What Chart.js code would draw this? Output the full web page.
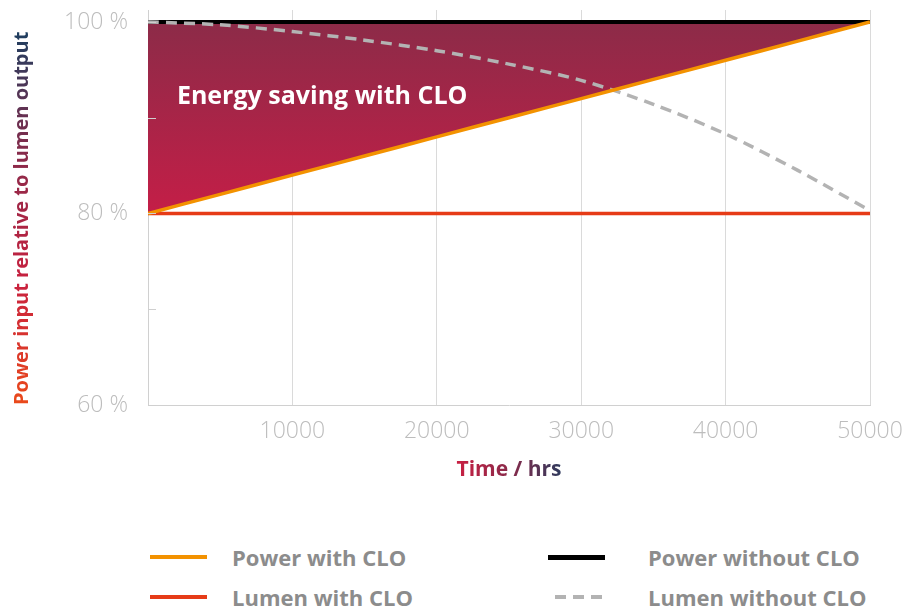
<!DOCTYPE html>
<html><head><meta charset="utf-8">
<script src="https://cdn.jsdelivr.net/npm/chart.js@4.4.1/dist/chart.umd.min.js"></script>
<style>
html,body{margin:0;padding:0;background:#fff;width:903px;height:610px;overflow:hidden;font-family:"Open Sans",sans-serif;}
#wrap{position:relative;width:903px;height:610px;}
canvas{position:absolute;left:0;top:0;}
.sw{position:absolute;}
.lt{position:absolute;font-weight:700;font-size:22px;line-height:30px;color:#8c8c8c;white-space:nowrap;}
</style></head><body>
<div id="wrap"><canvas id="c" width="903" height="500"></canvas><div id="legend"></div></div>
<script>
// ---- data ----
const timeHrs          = [0, 5000, 10000, 15000, 20000, 25000, 30000, 35000, 40000, 45000, 50000];
const powerWithCLO     = [80, 82, 84, 86, 88, 90, 92, 94, 96, 98, 100];
const powerWithoutCLO  = [100, 100, 100, 100, 100, 100, 100, 100, 100, 100, 100];
const lumenWithCLO     = [80, 80, 80, 80, 80, 80, 80, 80, 80, 80, 80];
const lumenWithoutCLO  = [100, 99.7, 99.0, 98.1, 97.0, 95.6, 93.9, 91.4, 88.3, 84.5, 80.3];
const xTickValues = [10000, 20000, 30000, 40000, 50000];
const yTickValues = [60, 70, 80, 90, 100];
const yLabelValues = [60, 80, 100];
const legendOrder = ['Power with CLO', 'Power without CLO', 'Lumen with CLO', 'Lumen without CLO'];
const annotationText = 'Energy saving with CLO';
const annotationPos = {x: 2000, y: 92.2};

const pts = arr => timeHrs.map((t, i) => ({x: t, y: arr[i]}));

const canvas = document.getElementById('c');
const ctx0 = canvas.getContext('2d');
const yTitleGrad = ctx0.createLinearGradient(0, 0, 375, 0);
yTitleGrad.addColorStop(0, '#ea4a1a');
yTitleGrad.addColorStop(0.33, '#c8213f');
yTitleGrad.addColorStop(0.66, '#8a2a4a');
yTitleGrad.addColorStop(1, '#1c3f60');
const xTitleGrad = ctx0.createLinearGradient(-55, 0, 55, 0);
xTitleGrad.addColorStop(0, '#cc1f42');
xTitleGrad.addColorStop(0.5, '#8a2a4a');
xTitleGrad.addColorStop(1, '#2a3b5e');

function fillGrad(context) {
  const chart = context.chart;
  const area = chart.chartArea;
  if (!area) return '#a52447';
  const ys = chart.scales.y;
  const g = chart.ctx.createLinearGradient(0, ys.getPixelForValue(100), 0, ys.getPixelForValue(80));
  g.addColorStop(0, '#8c2b48');
  g.addColorStop(1, '#c41e47');
  return g;
}

const datasets = [
  {label: 'Power with CLO', data: pts(powerWithCLO), borderColor: '#f39200', borderWidth: 3.5, fill: false},
  {label: 'Lumen without CLO', data: pts(lumenWithoutCLO), borderColor: '#b3b3b3', borderWidth: 3.5, borderDash: [11, 7], fill: false},
  {label: 'Power without CLO', data: pts(powerWithoutCLO), borderColor: '#000000', borderWidth: 4, fill: 0, backgroundColor: fillGrad},
  {label: 'Lumen with CLO', data: pts(lumenWithCLO), borderColor: '#e63b17', borderWidth: 3.5, fill: false}
];

const innerTicks = {
  id: 'innerTicks',
  afterDatasetsDraw(chart) {
    const ys = chart.scales.y, c = chart.ctx, left = chart.chartArea.left;
    c.save();
    c.strokeStyle = '#cfcfcf'; c.lineWidth = 1;
    ys.ticks.forEach(t => {
      const y = Math.round(ys.getPixelForValue(t.value)) + 0.5;
      c.beginPath(); c.moveTo(left, y); c.lineTo(left + 8, y); c.stroke();
    });
    c.restore();
  }
};
const annotation = {
  id: 'annotation',
  afterDatasetsDraw(chart) {
    const c = chart.ctx;
    c.save();
    c.fillStyle = '#ffffff';
    c.font = '700 25px "Open Sans"';
    c.textAlign = 'left'; c.textBaseline = 'middle';
    c.fillText(annotationText, chart.scales.x.getPixelForValue(annotationPos.x), chart.scales.y.getPixelForValue(annotationPos.y));
    c.restore();
  }
};
const noPad = s => { s.paddingTop = 0; s.paddingBottom = 0; s.paddingLeft = 0; s.paddingRight = 0; };

const chart = new Chart(canvas, {
  type: 'line',
  data: {datasets},
  plugins: [innerTicks, annotation],
  options: {
    responsive: false,
    animation: false,
    events: [],
    layout: {padding: {left: 0, top: 10, right: 33, bottom: 0}},
    elements: {point: {radius: 0}, line: {tension: 0.3, borderCapStyle: 'butt'}},
    plugins: {legend: {display: false}, tooltip: {enabled: false}, filler: {drawTime: 'beforeDatasetsDraw'}},
    scales: {
      x: {
        type: 'linear', min: 0, max: 50000,
        afterBuildTicks: s => { s.ticks = xTickValues.map(v => ({value: v})); },
        afterFit: s => { s.height = 95; noPad(s); },
        grid: {color: '#dadada', lineWidth: 1, drawTicks: false},
        border: {color: '#d0d0d0', width: 1},
        ticks: {color: '#bdbdbd', padding: 13, maxRotation: 0, font: {family: 'Open Sans', size: 23, weight: 300}, callback: v => String(v)},
        title: {display: true, text: 'Time / hrs', color: xTitleGrad, padding: {bottom: 17}, font: {family: 'Open Sans', size: 21, weight: 700}}
      },
      y: {
        type: 'linear', min: 60, max: 101.25,
        afterBuildTicks: s => { s.ticks = yTickValues.map(v => ({value: v})); },
        afterFit: s => { s.width = 148; noPad(s); },
        grid: {drawOnChartArea: false, drawTicks: false},
        border: {color: '#d0d0d0', width: 1},
        ticks: {color: '#bdbdbd', padding: 20, font: {family: 'Open Sans', size: 23, weight: 300},
                callback: v => yLabelValues.includes(v) ? v + ' %' : ''},
        title: {display: true, align: 'start', text: 'Power input relative to lumen output', color: yTitleGrad, padding: {top: 10}, font: {family: 'Open Sans', size: 20, weight: 700}}
      }
    }
  }
});

// HTML legend built from the chart's datasets
const legendPos = [
  {sw: 150, tx: 232, cy: 557}, {sw: 548, tx: 648, cy: 557},
  {sw: 150, tx: 232, cy: 597}, {sw: 548, tx: 648, cy: 597}
];
const lg = document.getElementById('legend');
legendOrder.forEach((name, i) => {
  const ds = chart.data.datasets.find(d => d.label === name);
  const p = legendPos[i];
  const h = ds.borderWidth >= 4 ? 5 : 4;
  const sw = document.createElement('div');
  sw.className = 'sw';
  sw.style.left = p.sw + 'px'; sw.style.width = '57px';
  sw.style.top = (p.cy - h / 2) + 'px'; sw.style.height = h + 'px';
  if (ds.borderDash) {
    sw.style.background = `repeating-linear-gradient(90deg, transparent 0 ${ds.borderDash[1]}px, ${ds.borderColor} ${ds.borderDash[1]}px ${ds.borderDash[0] + ds.borderDash[1]}px)`;
  } else {
    sw.style.background = ds.borderColor;
  }
  const tx = document.createElement('div');
  tx.className = 'lt';
  tx.style.left = p.tx + 'px'; tx.style.top = (p.cy - 15) + 'px';
  tx.textContent = ds.label;
  lg.appendChild(sw); lg.appendChild(tx);
});
</script>
</body></html>
